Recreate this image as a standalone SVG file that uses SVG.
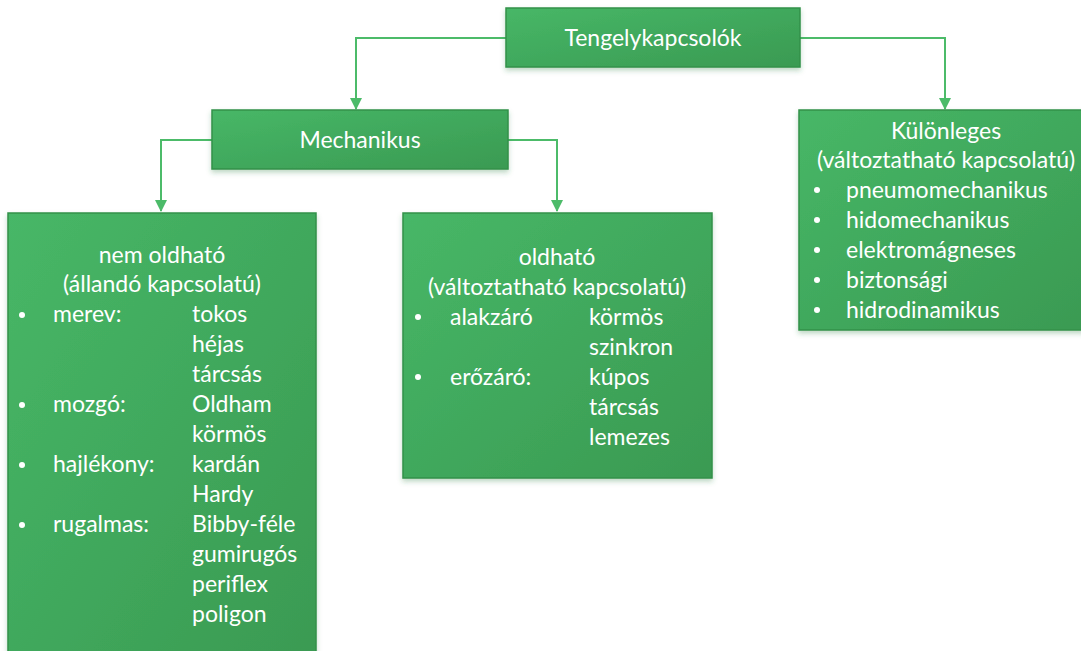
<svg xmlns="http://www.w3.org/2000/svg" width="1081" height="651" viewBox="0 0 1081 651">
<style>
.box{fill:url(#g);stroke:#33914a;stroke-width:1.5;filter:url(#sh)}
.t{font-family:Lato,"Open Sans","Liberation Sans",sans-serif;font-size:23px;fill:#ffffff}
.c{text-anchor:middle}
.b{fill:#ffffff}
.con{fill:none;stroke:#4cbb69;stroke-width:2;marker-end:url(#ah)}
</style>
<defs>
<linearGradient id="g" x1="0" y1="0" x2="1" y2="1">
<stop offset="0" stop-color="#47b767"/>
<stop offset="1" stop-color="#3a9a52"/>
</linearGradient>
<filter id="sh" x="-10%" y="-10%" width="120%" height="130%">
<feDropShadow dx="0" dy="3" stdDeviation="2.5" flood-color="#2e7d3e" flood-opacity="0.3"/>
</filter>
<marker id="ah" markerWidth="12" markerHeight="12" viewBox="0 0 12 12" refX="11" refY="6" orient="auto" markerUnits="userSpaceOnUse">
<path d="M0,0 L12,6 L0,12 Z" fill="#4cbb69"/>
</marker>
</defs>
<g id="connectors">
<path class="con" d="M506,38 H356 V109"/>
<path class="con" d="M800,38 H945 V109"/>
<path class="con" d="M212,140 H161 V211"/>
<path class="con" d="M508,140 H557 V211"/>
</g>
<g id="n-top">
<rect class="box" x="506" y="8" width="294" height="59"/>
<text class="t c" x="653" y="46">Tengelykapcsolók</text>
</g>
<g id="n-mech">
<rect class="box" x="212" y="110" width="296" height="59"/>
<text class="t c" x="360" y="148">Mechanikus</text>
</g>
<g id="n-kul">
<rect class="box" x="799" y="110" width="285" height="220"/>
<text class="t c" x="946" y="139">Különleges</text>
<text class="t c" x="946" y="168">(változtatható kapcsolatú)</text>
<circle class="b" cx="817" cy="190" r="3"/><text class="t" x="846" y="198">pneumomechanikus</text>
<circle class="b" cx="817" cy="220" r="3"/><text class="t" x="846" y="228">hidomechanikus</text>
<circle class="b" cx="817" cy="250" r="3"/><text class="t" x="846" y="258">elektromágneses</text>
<circle class="b" cx="817" cy="280" r="3"/><text class="t" x="846" y="288">biztonsági</text>
<circle class="b" cx="817" cy="310" r="3"/><text class="t" x="846" y="318">hidrodinamikus</text>
</g>
<g id="n-nem">
<rect class="box" x="8" y="213" width="308" height="450"/>
<text class="t c" x="162" y="263">nem oldható</text>
<text class="t c" x="162" y="292">(állandó kapcsolatú)</text>
<circle class="b" cx="22" cy="315" r="3"/><text class="t" x="53" y="322">merev:</text><text class="t" x="192" y="322">tokos</text>
<text class="t" x="192" y="352">héjas</text>
<text class="t" x="192" y="382">tárcsás</text>
<circle class="b" cx="22" cy="405" r="3"/><text class="t" x="53" y="412">mozgó:</text><text class="t" x="192" y="412">Oldham</text>
<text class="t" x="192" y="442">körmös</text>
<circle class="b" cx="22" cy="465" r="3"/><text class="t" x="53" y="472">hajlékony:</text><text class="t" x="192" y="472">kardán</text>
<text class="t" x="192" y="502">Hardy</text>
<circle class="b" cx="22" cy="525" r="3"/><text class="t" x="53" y="532">rugalmas:</text><text class="t" x="192" y="532">Bibby-féle</text>
<text class="t" x="192" y="562">gumirugós</text>
<text class="t" x="192" y="592">periflex</text>
<text class="t" x="192" y="622">poligon</text>
</g>
<g id="n-old">
<rect class="box" x="403" y="213" width="309" height="265"/>
<text class="t c" x="557" y="265">oldható</text>
<text class="t c" x="557" y="295">(változtatható kapcsolatú)</text>
<circle class="b" cx="418" cy="317" r="3"/><text class="t" x="450" y="325">alakzáró</text><text class="t" x="589" y="325">körmös</text>
<text class="t" x="589" y="355">szinkron</text>
<circle class="b" cx="418" cy="377" r="3"/><text class="t" x="450" y="385">erőzáró:</text><text class="t" x="589" y="385">kúpos</text>
<text class="t" x="589" y="415">tárcsás</text>
<text class="t" x="589" y="445">lemezes</text>
</g>
</svg>
